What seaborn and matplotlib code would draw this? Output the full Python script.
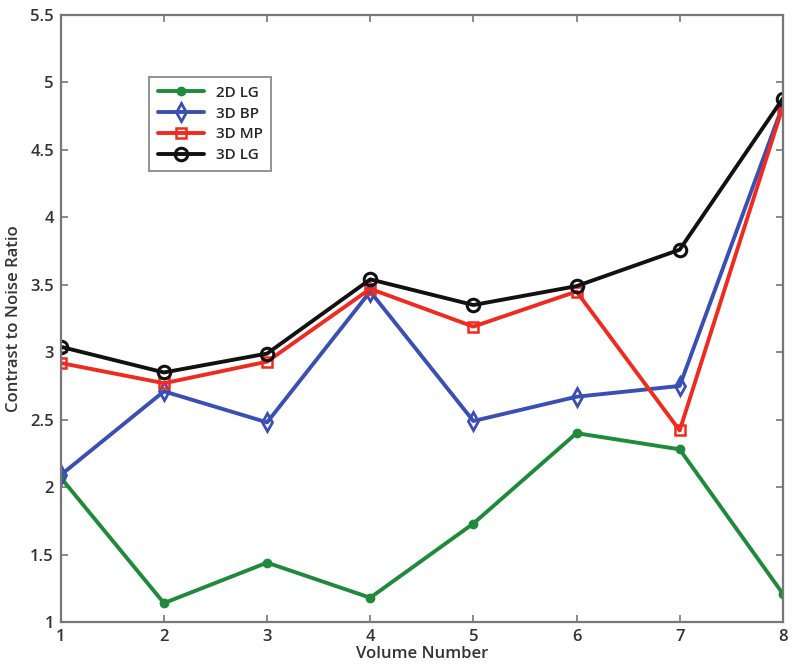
import pandas as pd
import numpy as np
import seaborn as sns
import matplotlib.pyplot as plt

# values
volume = [1, 2, 3, 4, 5, 6, 7, 8]
lg_2d = [2.07, 1.14, 1.44, 1.18, 1.73, 2.40, 2.28, 1.21]
bp_3d = [2.09, 2.71, 2.48, 3.45, 2.49, 2.67, 2.75, 4.83]
mp_3d = [2.92, 2.77, 2.93, 3.47, 3.19, 3.45, 2.42, 4.82]
lg_3d = [3.04, 2.85, 2.99, 3.54, 3.35, 3.49, 3.76, 4.88]

series = {'2D LG': lg_2d, '3D BP': bp_3d, '3D MP': mp_3d, '3D LG': lg_3d}
df = pd.DataFrame([(n, v, y) for n, ys in series.items() for v, y in zip(volume, ys)],
                  columns=['method', 'volume', 'cnr'])

sns.set_style('white')
plt.rcParams['font.family'] = ['Open Sans', 'DejaVu Sans']
plt.rcParams['font.weight'] = 'semibold'
plt.rcParams['axes.labelweight'] = 'semibold'

styles = {
    '2D LG': dict(color='#1e8a3a', marker='o', ms=6, mfc='#1e8a3a', mew=1),
    '3D BP': dict(color='#3a4fb5', marker='d', ms=9, mfc='none', mew=2),
    '3D MP': dict(color='#f02a1e', marker='s', ms=7, mfc='none', mew=1.8),
    '3D LG': dict(color='#111111', marker='o', ms=9, mfc='none', mew=2.2),
}

fig = plt.figure(figsize=(8, 6.72), dpi=100)
ax = fig.add_axes([0.076, 0.0744, 0.9025, 0.9033])
for name in series:
    st = styles[name]
    sns.lineplot(data=df[df.method == name], x='volume', y='cnr', ax=ax,
                 label=name, lw=2.8, errorbar=None, color=st['color'],
                 marker=st['marker'], markersize=st['ms'],
                 markerfacecolor=st['mfc'], markeredgecolor=st['color'],
                 markeredgewidth=st['mew'])

ax.set_xlim(1, 8)
ax.set_ylim(1, 5.5)
ax.set_xticks(volume)
ax.set_yticks([1, 1.5, 2, 2.5, 3, 3.5, 4, 4.5, 5, 5.5])
ax.set_yticklabels(['1', '1.5', '2', '2.5', '3', '3.5', '4', '4.5', '5', '5.5'])
ax.set_xlabel('Volume Number', size=12, color='#333333', labelpad=1)
ax.set_ylabel('Contrast to Noise Ratio', size=12, color='#333333', labelpad=6)
ax.tick_params(direction='in', length=5, width=1.2, color='#777777',
               labelsize=12, labelcolor='#333333', top=True, right=True,
               left=True, bottom=True, pad=5)
for sp in ax.spines.values():
    sp.set_color('#777777')
    sp.set_linewidth(1.6)

leg = ax.legend(loc='upper left', bbox_to_anchor=(0.112, 0.91), fontsize=11,
                frameon=True, fancybox=False, handlelength=3.0,
                borderpad=0.55, labelspacing=0.45)
leg.get_frame().set_edgecolor('#777777')
leg.get_frame().set_linewidth(1.4)

plt.savefig('out.png')
